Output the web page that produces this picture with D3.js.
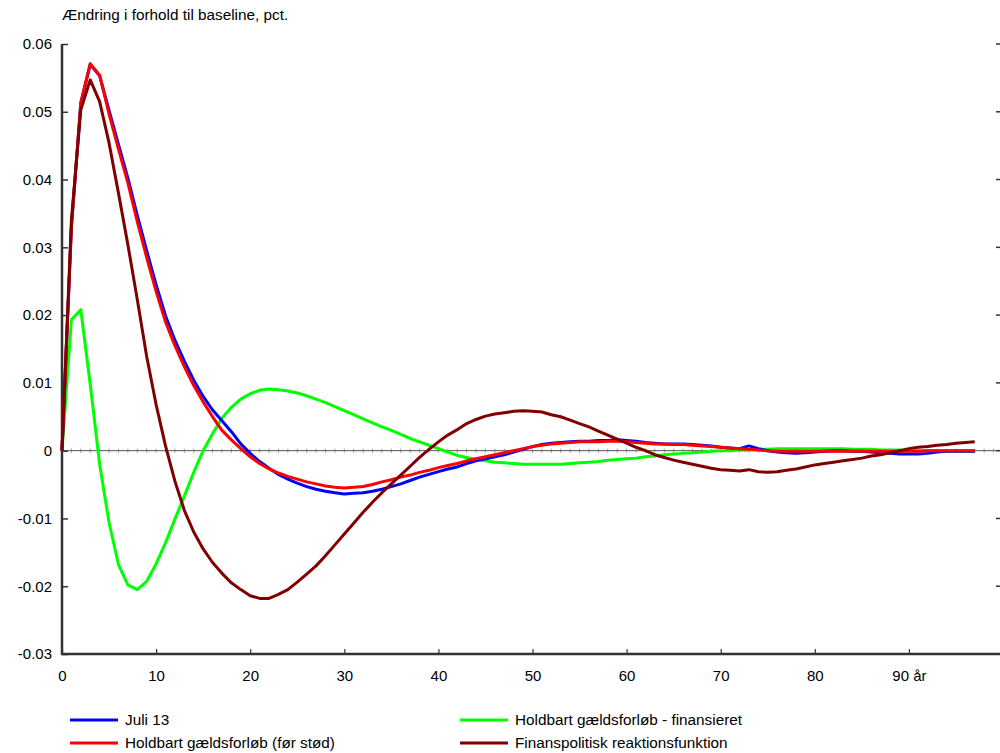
<!DOCTYPE html>
<html>
<head>
<meta charset="utf-8">
<script src="https://cdn.jsdelivr.net/npm/d3@7"></script>
<style>
  body { margin: 0; background: #fff; }
  text { font-family: "Liberation Sans", Arial, sans-serif; }
</style>
</head>
<body>
<script>
// years 0..97
const years = d3.range(0, 98);

const juli13 = [0, 0.033, 0.0513, 0.057, 0.0553, 0.0502, 0.0452, 0.0402, 0.0347, 0.0295,
  0.0245, 0.0199, 0.0163, 0.0132, 0.0104, 0.0080, 0.0060, 0.0044, 0.0028, 0.0010,
  -0.0004, -0.0016, -0.0026, -0.0035, -0.0042, -0.0048, -0.0053, -0.0057, -0.0060, -0.0062,
  -0.0064, -0.0063, -0.0062, -0.0060, -0.0057, -0.0053, -0.0049, -0.0044, -0.0039, -0.0035,
  -0.0031, -0.0027, -0.0024, -0.0019, -0.0015, -0.0012, -0.0009, -0.0006, -0.0002, 0.0002,
  0.0006, 0.0009, 0.0011, 0.0012, 0.0013, 0.0014, 0.0014, 0.0015, 0.0015, 0.0016,
  0.0015, 0.0014, 0.0012, 0.0011, 0.0010, 0.0010, 0.0010, 0.0009, 0.0008, 0.0007,
  0.0005, 0.0004, 0.0003, 0.0007, 0.0003, 0.0000, -0.0002, -0.0003, -0.0004, -0.0003,
  -0.0002, -0.0001, 0.0000, 0.0000, -0.0001, -0.0001, -0.0002, -0.0003, -0.0004, -0.0005,
  -0.0005, -0.0005, -0.0004, -0.0002, -0.0001, -0.0001, -0.0001, -0.0001];

const foerStoed = [0, 0.033, 0.0513, 0.0571, 0.0554, 0.0497, 0.0445, 0.0395, 0.0338, 0.0285,
  0.0235, 0.0190, 0.0155, 0.0124, 0.0096, 0.0072, 0.0050, 0.0030, 0.0016, 0.0003,
  -0.0009, -0.0019, -0.0027, -0.0033, -0.0038, -0.0042, -0.0046, -0.0049, -0.0052, -0.0054,
  -0.0055, -0.0054, -0.0053, -0.0050, -0.0046, -0.0043, -0.0039, -0.0036, -0.0032, -0.0029,
  -0.0025, -0.0022, -0.0019, -0.0015, -0.0012, -0.0009, -0.0006, -0.0003, 0.0000, 0.0003,
  0.0006, 0.0008, 0.0010, 0.0011, 0.0012, 0.0013, 0.0013, 0.0013, 0.0014, 0.0014,
  0.0013, 0.0012, 0.0011, 0.0010, 0.0010, 0.0009, 0.0009, 0.0008, 0.0007, 0.0006,
  0.0005, 0.0004, 0.0003, 0.0002, 0.0001, 0.0000, -0.0001, -0.0001, -0.0001, -0.0001,
  -0.0001, -0.0001, -0.0001, -0.0001, -0.0001, -0.0001, -0.0001, -0.0001, -0.0001, -0.0001,
  -0.0001, -0.0001, 0.0000, 0.0000, 0.0000, 0.0000, 0.0000, 0.0000];

const finansieret = [0, 0.0193, 0.0208, 0.0098, -0.0020, -0.0106, -0.0168, -0.0198, -0.0205, -0.0193,
  -0.0167, -0.0136, -0.0101, -0.0067, -0.0032, 0.0000, 0.0025, 0.0048, 0.0064, 0.0076,
  0.0084, 0.0089, 0.0091, 0.0090, 0.0088, 0.0085, 0.0081, 0.0076, 0.0071, 0.0065,
  0.0059, 0.0053, 0.0047, 0.0041, 0.0035, 0.0030, 0.0024, 0.0018, 0.0013, 0.0008,
  0.0003, -0.0002, -0.0007, -0.0010, -0.0013, -0.0015, -0.0017, -0.0018, -0.0019, -0.0020,
  -0.0020, -0.0020, -0.0020, -0.0020, -0.0019, -0.0018, -0.0017, -0.0016, -0.0014, -0.0013,
  -0.0012, -0.0011, -0.0009, -0.0008, -0.0006, -0.0005, -0.0004, -0.0003, -0.0002, -0.0001,
  0.0000, 0.0000, 0.0001, 0.0001, 0.0002, 0.0002, 0.0003, 0.0003, 0.0003, 0.0003,
  0.0003, 0.0003, 0.0003, 0.0003, 0.0002, 0.0002, 0.0002, 0.0001, 0.0001, 0.0001,
  0.0000, 0.0000, 0.0000, 0.0000, -0.0001, -0.0001, -0.0001, -0.0001];

const reaktion = [0, 0.034, 0.0503, 0.0547, 0.0515, 0.0454, 0.0380, 0.0304, 0.0223, 0.0139,
  0.0068, 0.0007, -0.0045, -0.0088, -0.0120, -0.0145, -0.0165, -0.0181, -0.0195, -0.0205,
  -0.0214, -0.0218, -0.0218, -0.0212, -0.0205, -0.0194, -0.0182, -0.0170, -0.0155, -0.0139,
  -0.0123, -0.0107, -0.0091, -0.0076, -0.0062, -0.0049, -0.0036, -0.0023, -0.0010, 0.0002,
  0.0013, 0.0023, 0.0031, 0.0040, 0.0046, 0.0051, 0.0054, 0.0056, 0.0058, 0.0059,
  0.0058, 0.0057, 0.0053, 0.0050, 0.0045, 0.0040, 0.0035, 0.0029, 0.0023, 0.0017,
  0.0011, 0.0005, 0.0000, -0.0006, -0.0010, -0.0014, -0.0017, -0.0020, -0.0023, -0.0026,
  -0.0028, -0.0029, -0.0030, -0.0028, -0.0031, -0.0032, -0.0031, -0.0029, -0.0027, -0.0024,
  -0.0021, -0.0019, -0.0017, -0.0015, -0.0013, -0.0011, -0.0008, -0.0006, -0.0003, 0.0000,
  0.0003, 0.0005, 0.0006, 0.0008, 0.0009, 0.0011, 0.0012, 0.0013];

const series = [
  { name: "Juli 13", color: "#0000ff", values: juli13 },
  { name: "Holdbart gældsforløb (før stød)", color: "#ff0000", values: foerStoed },
  { name: "Holdbart gældsforløb - finansieret", color: "#00ff00", values: finansieret },
  { name: "Finanspolitisk reaktionsfunktion", color: "#800000", values: reaktion }
];
const drawOrder = [2, 0, 1, 3];

const yTicks = [0.06, 0.05, 0.04, 0.03, 0.02, 0.01, 0, -0.01, -0.02, -0.03];
const xTicks = [0, 10, 20, 30, 40, 50, 60, 70, 80, 90];
const xTickLabels = ["0", "10", "20", "30", "40", "50", "60", "70", "80", "90 år"];

const W = 1000, H = 753;
const svg = d3.select("body").append("svg")
  .attr("width", W).attr("height", H);

const x = d3.scaleLinear().domain([0, 100]).range([62, 1003]);
const y = d3.scaleLinear().domain([-0.03, 0.06]).range([654, 44]);

svg.append("text")
  .attr("x", 62).attr("y", 20)
  .attr("font-size", 15.3)
  .text("Ændring i forhold til baseline, pct.");

// zero line with yearly minor ticks
svg.append("line")
  .attr("x1", x(0)).attr("x2", 1000)
  .attr("y1", y(0)).attr("y2", y(0))
  .attr("stroke", "#555").attr("stroke-width", 1);
svg.append("g").selectAll("line")
  .data(d3.range(1, 100))
  .enter().append("line")
    .attr("x1", d => x(d)).attr("x2", d => x(d))
    .attr("y1", y(0) - 2).attr("y2", y(0) + 2)
    .attr("stroke", "#777").attr("stroke-width", 0.8);

// left axis (plain hyphen as minus, like the original)
const yAxis = d3.axisLeft(y).tickValues(yTicks).tickSize(-6).tickPadding(10)
  .tickFormat(d => d === 0 ? "0" : d3.format(".2f")(d).replace("\u2212", "-"));
const gy = svg.append("g").attr("transform", `translate(${x(0)},0)`).call(yAxis);
gy.select(".domain").remove();
gy.selectAll(".tick line").attr("stroke", "#333").attr("stroke-width", 1.5);
gy.selectAll(".tick text").attr("font-size", 15).attr("fill", "#000")
  .attr("font-family", "Liberation Sans, Arial, sans-serif");

// right ticks
svg.append("g").selectAll("line")
  .data(yTicks)
  .enter().append("line")
    .attr("x1", 996).attr("x2", 1000)
    .attr("y1", d => y(d)).attr("y2", d => y(d))
    .attr("stroke", "#333").attr("stroke-width", 1.5);

// bottom axis
const xAxis = d3.axisBottom(x).tickValues(xTicks).tickSize(-5).tickPadding(16)
  .tickFormat((d, i) => xTickLabels[i]);
const gx = svg.append("g").attr("transform", `translate(0,${y(-0.03)})`).call(xAxis);
gx.select(".domain").remove();
gx.selectAll(".tick line").attr("stroke", "#333").attr("stroke-width", 1.2);
gx.selectAll(".tick text").attr("font-size", 15).attr("fill", "#000")
  .attr("font-family", "Liberation Sans, Arial, sans-serif");

// frame lines
svg.append("line")
  .attr("x1", x(0)).attr("x2", x(0)).attr("y1", y(0.06)).attr("y2", y(-0.03) + 1)
  .attr("stroke", "#333").attr("stroke-width", 2.5);
svg.append("line")
  .attr("x1", x(0) - 1).attr("x2", 1000).attr("y1", y(-0.03)).attr("y2", y(-0.03))
  .attr("stroke", "#333").attr("stroke-width", 2.5);

// series
const line = d3.line()
  .x((d, i) => x(years[i]))
  .y(d => y(d));

svg.append("g").selectAll("path")
  .data(drawOrder.map(i => series[i]))
  .enter().append("path")
    .attr("d", d => line(d.values))
    .attr("fill", "none")
    .attr("stroke", d => d.color)
    .attr("stroke-width", 3)
    .attr("stroke-linejoin", "round");

// legend
const legendPos = [
  { lx: 70, ly: 720 },
  { lx: 70, ly: 743 },
  { lx: 460, ly: 720 },
  { lx: 460, ly: 743 }
];
const lg = svg.append("g").selectAll("g")
  .data(series)
  .enter().append("g")
    .attr("transform", (d, i) => `translate(${legendPos[i].lx},${legendPos[i].ly})`);
lg.append("line")
  .attr("x1", 0).attr("x2", 48).attr("y1", 0).attr("y2", 0)
  .attr("stroke", d => d.color).attr("stroke-width", 3);
lg.append("text")
  .attr("x", 55).attr("y", 5)
  .attr("font-size", 15.3)
  .text(d => d.name);
</script>
</body>
</html>
